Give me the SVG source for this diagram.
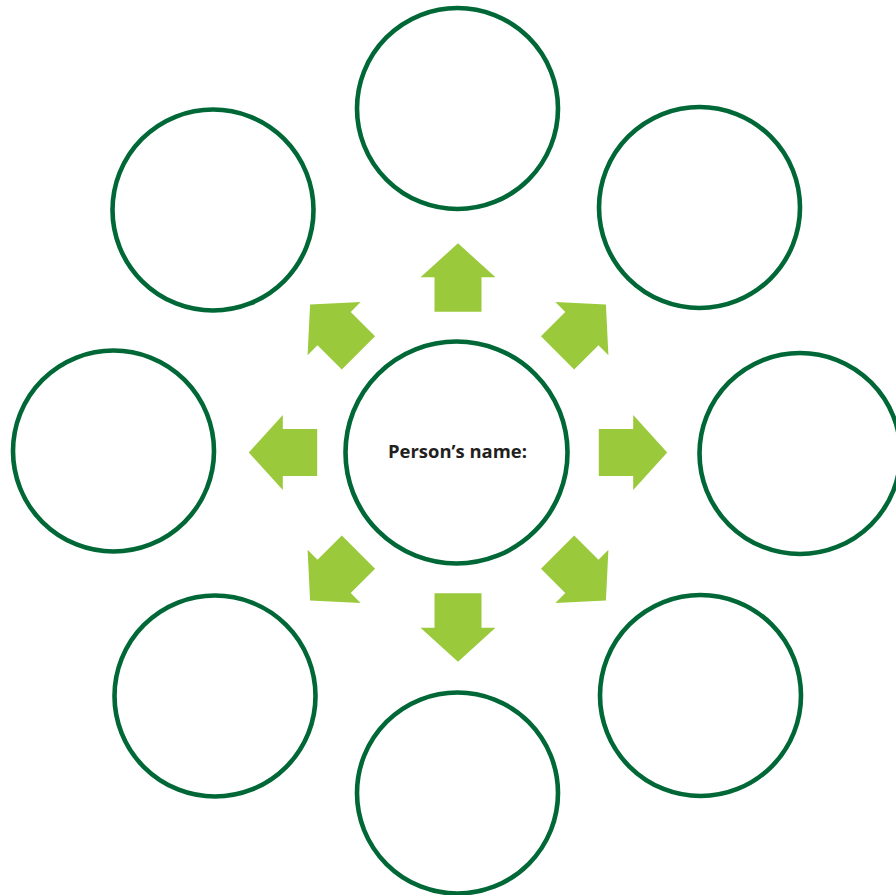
<svg xmlns="http://www.w3.org/2000/svg" width="896" height="895" viewBox="0 0 896 895">
<defs>
<style>
.c{fill:#ffffff;stroke:#006837;stroke-width:4.6}
.a{fill:#9aca3c}
.t{font-family:"Open Sans","Liberation Sans",Arial,sans-serif;font-weight:bold;font-size:17.5px;fill:#231f20}
</style>
<path id="arr" d="M458,243.3 L495.5,277.3 L481.5,277.3 L481.5,311.7 L434.5,311.7 L434.5,277.3 L420.5,277.3 Z"/>
</defs>
<rect width="896" height="895" fill="#ffffff"/>
<g id="connectors">
<use href="#arr" class="a"/>
<use href="#arr" class="a" transform="rotate(45 458 452.5)"/>
<use href="#arr" class="a" transform="rotate(90 458 452.5)"/>
<use href="#arr" class="a" transform="rotate(135 458 452.5)"/>
<use href="#arr" class="a" transform="rotate(180 458 452.5)"/>
<use href="#arr" class="a" transform="rotate(225 458 452.5)"/>
<use href="#arr" class="a" transform="rotate(270 458 452.5)"/>
<use href="#arr" class="a" transform="rotate(315 458 452.5)"/>
</g>
<g id="center"><circle class="c" cx="456.5" cy="452.5" r="111"/>
<text class="t" x="457.5" y="458" text-anchor="middle" textLength="139" lengthAdjust="spacingAndGlyphs">Person’s name:</text></g>
<g id="top"><circle class="c" cx="457.5" cy="108.5" r="100.5"/></g>
<g id="upper-right"><circle class="c" cx="699.5" cy="207.5" r="100.5"/></g>
<g id="right"><circle class="c" cx="800" cy="453.5" r="100.5"/></g>
<g id="lower-right"><circle class="c" cx="700.5" cy="695.5" r="100.5"/></g>
<g id="bottom"><circle class="c" cx="457.5" cy="793" r="100.5"/></g>
<g id="lower-left"><circle class="c" cx="215" cy="696" r="100.5"/></g>
<g id="left"><circle class="c" cx="113.5" cy="451" r="100.5"/></g>
<g id="upper-left"><circle class="c" cx="213" cy="210" r="100.5"/></g>
</svg>
